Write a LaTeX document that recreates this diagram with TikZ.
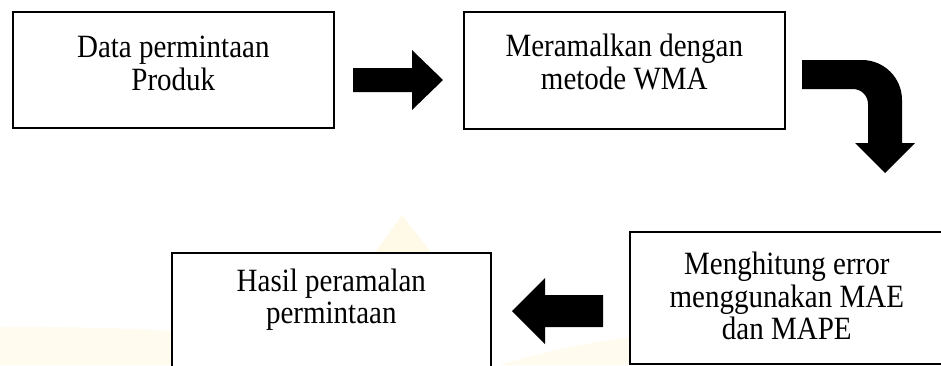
\documentclass[tikz,border=0pt]{standalone}
\usepackage{fontspec}
\setmainfont{Liberation Serif}
\definecolor{markpale}{RGB}{255,249,232}
\definecolor{markband}{RGB}{255,251,238}
\begin{document}
\begin{tikzpicture}[x=1pt,y=1pt,
  stepbox/.style={draw=black,line width=1.6pt,fill=white,inner sep=0pt},
  boxtext/.style={align=center,inner sep=0pt,anchor=north,
    yscale=1.12,transform shape,font=\fontsize{29}{28.6}\selectfont},
  blockarrow/.style={fill=black,draw=none}]
\useasboundingbox (0,0) rectangle (941,-365);
\clip (0,0) rectangle (941,-365);

% faint background emblem
\fill[markpale] (402,-215) -- (480,-315) -- (330,-315) -- cycle;
\fill[markband] (0,-327) .. controls (120,-326) and (250,-333) .. (330,-345)
  -- (330,-365) -- (0,-365) -- cycle;
\fill[markband] (500,-365) .. controls (550,-350) and (600,-338) .. (700,-330)
  -- (700,-365) -- cycle;

% process boxes (placed by their top-left corners)
\node[stepbox,minimum width=321pt,minimum height=116pt,anchor=north west] (b1) at (12,-11) {};
\node[stepbox,minimum width=321pt,minimum height=117pt,anchor=north west] (b2) at (463,-11) {};
\node[stepbox,minimum width=319pt,minimum height=118pt,anchor=north west] (b3) at (171,-252) {};
\node[stepbox,minimum width=314pt,minimum height=132pt,anchor=north west] (b4) at (629,-231) {};

% labels: the strut fixes the first baseline 22pt below the anchor
\node[boxtext] (t1) at ([yshift=-23.6pt]b1.north) {\strut Data permintaan\\Produk};
\node[boxtext] (t2) at ([yshift=-22.6pt]b2.north) {\strut Meramalkan dengan\\metode WMA};
\node[boxtext] (t3) at ([yshift=-16.6pt]b3.north) {\strut Hasil peramalan\\permintaan};
\node[boxtext] (t4) at ([yshift=-20.6pt]b4.north) {\strut Menghitung error\\menggunakan MAE\\dan MAPE};

% block arrow from b1 towards b2
\fill[blockarrow] (353,-68) -- (412,-68) -- (412,-50) -- (443,-80)
  -- (412,-110) -- (412,-92) -- (353,-92) -- cycle;

% bent block arrow from b2 down to b4
\fill[blockarrow] (802,-60) -- (862,-60) arc[start angle=90,end angle=0,radius=40]
  -- (902,-143) -- (915,-143) -- (885,-173) -- (855,-143) -- (868,-143)
  -- (868,-104) arc[start angle=0,end angle=90,radius=15] -- (802,-89) -- cycle;

% block arrow from b4 back to b3
\fill[blockarrow] (603,-295) -- (545,-295) -- (545,-278) -- (512,-311)
  -- (545,-344) -- (545,-327) -- (603,-327) -- cycle;
\end{tikzpicture}
\end{document}
